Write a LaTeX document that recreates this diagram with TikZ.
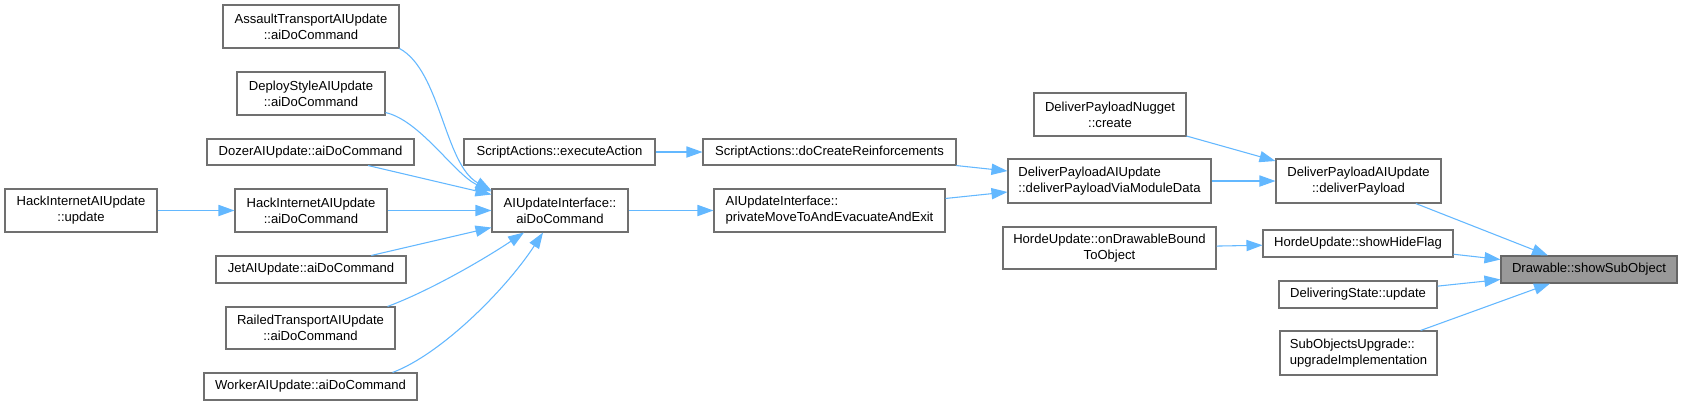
\documentclass[tikz,border=0pt]{standalone}
\usepackage{fontspec}
\setmainfont{Liberation Sans}
\usetikzlibrary{arrows.meta,calc}
\definecolor{edgeblue}{HTML}{63B8FF}
\definecolor{boxborder}{HTML}{707070}
\definecolor{mainfill}{HTML}{999999}
\newcommand\dxbox[7]{\node[#1,minimum width={(#5-#3)*0.75pt},minimum height={(#6-#4)*0.75pt}] (#2) at ({(#3+#5)/2},{(#4+#6)/2}) {#7};}
\begin{document}
\begin{tikzpicture}[x=0.75pt,y=-0.75pt,
  box/.style={draw=boxborder,line width=0.8pt,fill=white,inner sep=0pt,
    font=\fontsize{9.8pt}{12pt}\selectfont,align=center},
  lbox/.style={box,align=left},
  mainbox/.style={box,fill=mainfill,draw=black!60},
  conn/.style={draw=edgeblue,line width=0.8pt,-{Triangle[length=12pt,width=8.4pt]}}]
\fill[white] (0,0) rectangle (1683,405);
\useasboundingbox (0,0) rectangle (1683,405);
% nodes
\dxbox{box}{a1}{223}{5}{399}{48}{AssaultTransportAIUpdate\\::aiDoCommand}
\dxbox{box}{a2}{237}{72}{385}{115}{DeployStyleAIUpdate\\::aiDoCommand}
\dxbox{box}{a3}{207}{139}{414}{165}{DozerAIUpdate::aiDoCommand}
\dxbox{box}{h1}{5}{189}{157}{232}{HackInternetAIUpdate\\::update}
\dxbox{box}{a4}{235}{189}{387}{232}{HackInternetAIUpdate\\::aiDoCommand}
\dxbox{box}{a5}{216}{256}{406}{283}{JetAIUpdate::aiDoCommand}
\dxbox{box}{a6}{226}{307}{395}{349}{RailedTransportAIUpdate\\::aiDoCommand}
\dxbox{box}{a7}{204}{373}{417}{400}{WorkerAIUpdate::aiDoCommand}
\dxbox{box}{ai}{492}{189}{628}{232}{AIUpdateInterface::\\aiDoCommand}
\dxbox{box}{se}{464}{139}{655}{165}{ScriptActions::executeAction}
\dxbox{box}{sc}{703}{139}{956}{165}{ScriptActions::doCreateReinforcements}
\dxbox{lbox}{pm}{714}{189}{945}{232}{AIUpdateInterface::\\privateMoveToAndEvacuateAndExit}
\dxbox{box}{dn}{1034}{93}{1186}{136}{DeliverPayloadNugget\\::create}
\dxbox{lbox}{dv}{1008}{159}{1211}{203}{DeliverPayloadAIUpdate\\::deliverPayloadViaModuleData}
\dxbox{box}{ho}{1003}{227}{1216}{269}{HordeUpdate::onDrawableBound\\ToObject}
\dxbox{box}{dp}{1276}{159}{1441}{203}{DeliverPayloadAIUpdate\\::deliverPayload}
\dxbox{box}{hs}{1263}{230}{1453}{257}{HordeUpdate::showHideFlag}
\dxbox{box}{ds}{1279}{281}{1437}{308}{DeliveringState::update}
\dxbox{lbox}{so}{1280}{331}{1437}{375}{SubObjectsUpgrade::\\upgradeImplementation}
\dxbox{mainbox}{dr}{1501}{256}{1677}{283}{Drawable::showSubObject}
% connectors
\draw[conn] (a1.south east) .. controls +(41,22) and +(-47,-26) .. ($(ai.north west)+(0,2)$);
\draw[conn] ($(a2.south east)+(0,-3)$) .. controls +(35,8) and +(-37,-17) .. ($(ai.north west)+(0,3)$);
\draw[conn] (a3) -- ($(ai.west)+(0,-16)$);
\draw[conn] (a4) -- (ai);
\draw[conn] (a5) -- ($(ai.west)+(0,17)$);
\draw[conn] ($(a6.north east)+(-8,0)$) .. controls +(43,-16) and +(-39,26) .. ($(ai.south)+(-36,0)$);
\draw[conn] ($(a7.north east)+(-25,0)$) .. controls +(48,-18) and +(-38,58) .. ($(ai.south)+(-17,0)$);
\draw[conn] (h1) -- (a4);
\draw[conn] (ai) -- (pm);
\draw[conn] (se) -- (sc);
\draw[conn] (sc) -- ($(dv.west)+(0,-10)$);
\draw[conn] (pm) -- ($(dv.west)+(0,11)$);
\draw[conn] (dn) -- ($(dp.west)+(0,-20)$);
\draw[conn] (dv) -- (dp);
\draw[conn] (ho) -- (hs);
\draw[conn] (dp) -- ($(dr.north)+(-41,0)$);
\draw[conn] (hs) -- ($(dr.west)+(0,-10)$);
\draw[conn] (ds) -- ($(dr.west)+(0,10)$);
\draw[conn] (so) -- ($(dr.south)+(-39,0)$);
\end{tikzpicture}
\end{document}
